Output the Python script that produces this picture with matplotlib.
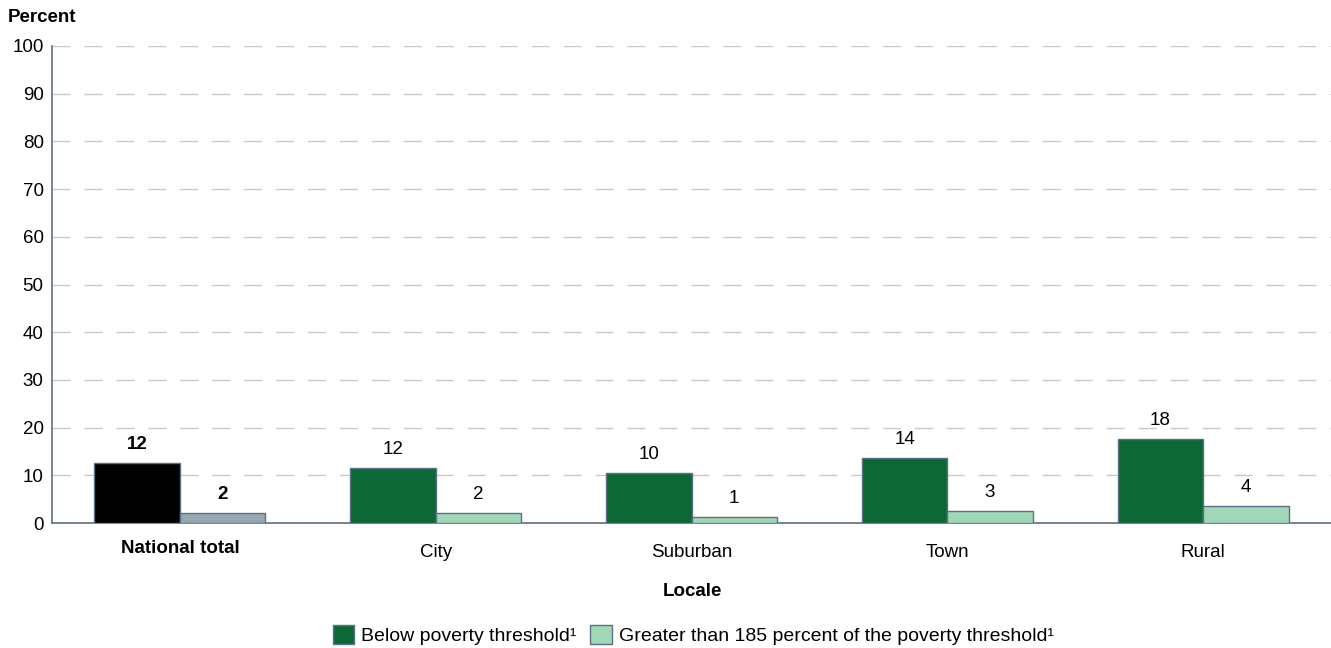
import matplotlib
matplotlib.use("Agg")
import matplotlib.pyplot as plt
from matplotlib.patches import Patch
import numpy as np

categories = ["National total", "City", "Suburban", "Town", "Rural"]
below_poverty = [12.6, 11.6, 10.5, 13.6, 17.7]
above_185 = [2.1, 2.1, 1.3, 2.5, 3.6]
below_labels = ["12", "12", "10", "14", "18"]
above_labels = ["2", "2", "1", "3", "4"]
yticks = [0, 10, 20, 30, 40, 50, 60, 70, 80, 90, 100]

plt.rcParams['font.family'] = ['Liberation Sans', 'DejaVu Sans']

DARK = "#0d6837"
LIGHT = "#a1d6b7"
EDGE = "#5b7186"
FS = 13.5

fig = plt.figure(figsize=(13.31, 6.48), dpi=100)
ax = fig.add_axes([52/1331, 1 - 523/648, (1331-52)/1331, (523-46)/648])

x = np.arange(len(categories))
w = 0.334
dark_colors = ["#000000"] + [DARK] * 4
light_colors = ["#97a7af"] + [LIGHT] * 4
ax.bar(x - w/2, below_poverty, w, color=dark_colors, edgecolor=EDGE, linewidth=1, zorder=3)
ax.bar(x + w/2, above_185, w, color=light_colors, edgecolor=EDGE, linewidth=1, zorder=3)

for i in range(len(categories)):
    fw = "bold" if i == 0 else "normal"
    ax.annotate(below_labels[i], (x[i] - w/2, below_poverty[i]), xytext=(0, 7),
                textcoords="offset points", ha="center", va="bottom", fontsize=FS, fontweight=fw)
    ax.annotate(above_labels[i], (x[i] + w/2, above_185[i]), xytext=(0, 7),
                textcoords="offset points", ha="center", va="bottom", fontsize=FS, fontweight=fw)

ax.set_xlim(-0.5, 4.5)
ax.set_ylim(0, 100)
ax.set_yticks(yticks)
ax.set_yticklabels([str(v) for v in yticks], fontsize=FS)
ax.tick_params(axis="y", length=0, pad=6)
ax.tick_params(axis="x", length=0, pad=15)
ax.set_xticks(x)
ax.set_xticklabels(categories, fontsize=FS)
for i, lbl in enumerate(ax.get_xticklabels()):
    if i == 0:
        lbl.set_fontweight("bold")
        lbl.set_y(0.008)

ax.yaxis.grid(True, linestyle=(0, (13, 10)), color="#c8c8c8", linewidth=1, zorder=0)
ax.set_axisbelow(True)
for s in ["top", "right"]:
    ax.spines[s].set_visible(False)
ax.spines["left"].set_color(EDGE)
ax.spines["bottom"].set_color(EDGE)
ax.spines["left"].set_linewidth(1.2)
ax.spines["bottom"].set_linewidth(1.2)

fig.text(8/1331, 1 - 17/648, "Percent", fontsize=FS, fontweight="bold", ha="left", va="center")
fig.text(692/1331, 1 - 591/648, "Locale", fontsize=FS, fontweight="bold", ha="center", va="center")

handles = [Patch(facecolor=DARK, edgecolor=EDGE), Patch(facecolor=LIGHT, edgecolor=EDGE)]
labels = ["Below poverty threshold¹", "Greater than 185 percent of the poverty threshold¹"]
fig.legend(handles, labels, loc="center", bbox_to_anchor=(693/1331, 1 - 635/648), ncol=2,
           frameon=False, fontsize=14, handlelength=1.1, handleheight=1.1,
           handletextpad=0.36, columnspacing=0.72)

fig.savefig("out.png", dpi=100)
